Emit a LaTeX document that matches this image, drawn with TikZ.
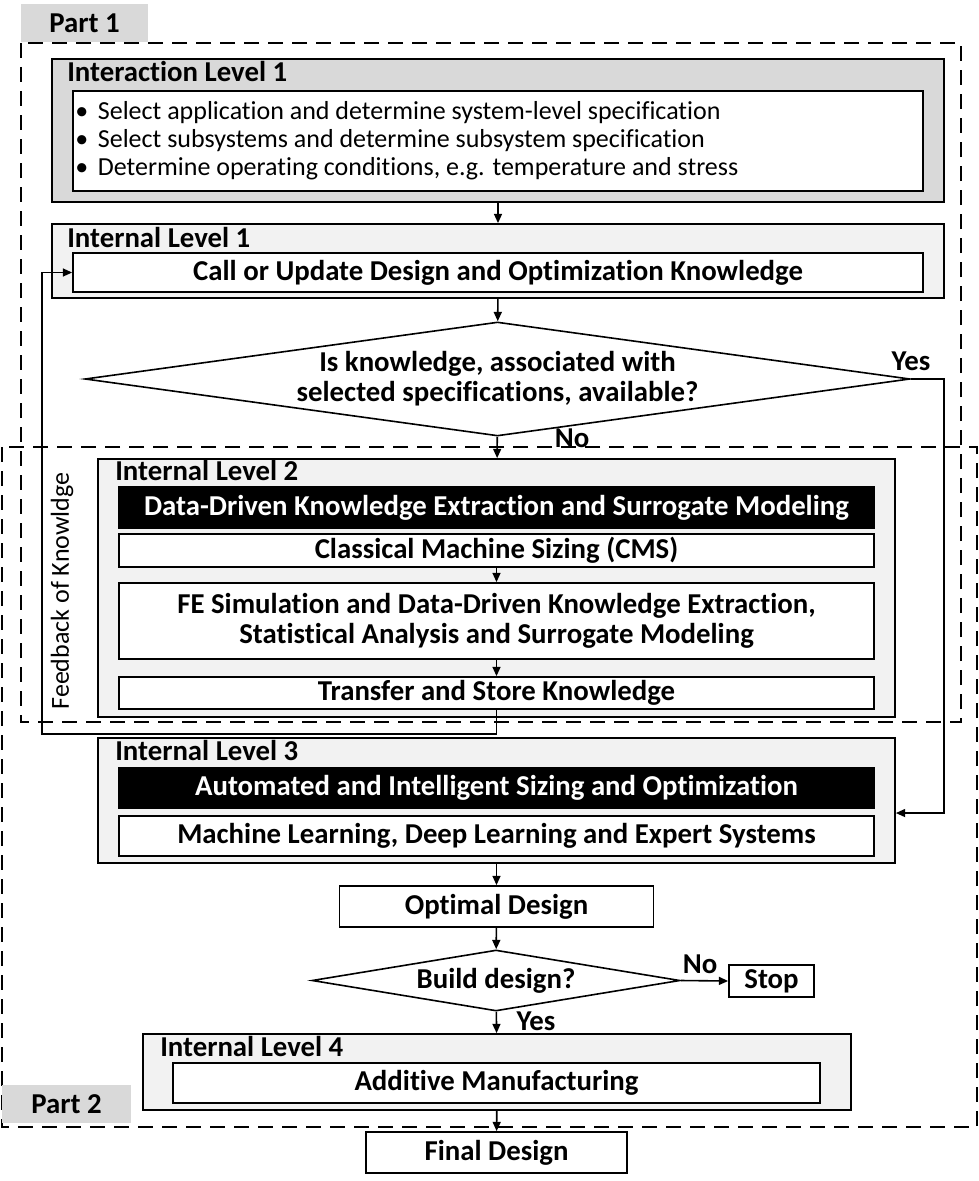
\documentclass[tikz,border=0pt]{standalone}
\usepackage{fontspec}
\setmainfont{Carlito}[Ligatures=NoCommon]
\usetikzlibrary{shapes.geometric,arrows.meta}
\definecolor{lvldark}{HTML}{D9D9D9}
\definecolor{lvllight}{HTML}{F2F2F2}
\newcommand{\boxfont}{\fontsize{21.6}{22.5}\selectfont\bfseries}
\newcommand{\listfont}{\fontsize{19.5}{21}\selectfont}

\begin{document}
\begin{tikzpicture}[x=0.75pt,y=0.75pt,yscale=-1,xscale=1,
    levelbox/.style={draw,line width=1.3pt,fill=lvllight,inner sep=0pt},
    whitebox/.style={draw,line width=1.3pt,fill=white,inner sep=0pt,font=\boxfont,align=center},
    blackbox/.style={draw,line width=1.3pt,fill=black,text=white,inner sep=0pt,font=\boxfont},
    decision/.style={diamond,draw,line width=1.2pt,fill=white,inner sep=0pt,font=\boxfont,align=center},
    leveltitle/.style={anchor=base west,inner sep=0pt,font=\boxfont},
    partlabel/.style={fill=lvldark,inner sep=0pt,font=\boxfont},
    answer/.style={anchor=base,inner sep=0pt,font=\boxfont},
    frame/.style={line width=1.4pt,dash pattern=on 11pt off 7pt},
    arr/.style={line width=1.2pt,-{Triangle[length=7pt,width=6pt]}}]
    \useasboundingbox (0,0) rectangle (978,1181);

    % part frames
    \draw[frame] (21,43) rectangle (961,722);
    \draw[frame] (2,447) rectangle (977,1127);
    \node[partlabel,minimum width=95.25pt,minimum height=28.5pt] (part1) at (84.5,23) {Part 1};
    \node[partlabel,minimum width=96.75pt,minimum height=28.5pt] (part2) at (66.5,1104) {Part 2};

    % interaction level 1
    \node[levelbox,fill=lvldark,minimum width=669pt,minimum height=107.25pt] (int1) at (498,130.5) {};
    \node[leveltitle] (int1t) at (67,82) {Interaction Level 1};
    \node[whitebox,minimum width=637.5pt,minimum height=75pt] (spec) at (498,141) {};
    \node[anchor=west,inner sep=0pt,font=\listfont,align=left] (specs) at (75,141) {%
        \makebox[17pt][l]{\textbullet}Select application and determine system-level specification\\
        \makebox[17pt][l]{\textbullet}Select subsystems and determine subsystem specification\\
        \makebox[17pt][l]{\textbullet}Determine operating conditions, e.g. temperature and stress};

    % internal level 1
    \node[levelbox,minimum width=669pt,minimum height=55.5pt] (lvl1) at (498,261) {};
    \node[leveltitle] (lvl1t) at (67,247) {Internal Level 1};
    \node[whitebox,minimum width=637.5pt,minimum height=29.25pt] (call) at (498,272.5) {Call or Update Design and Optimization Knowledge};

    % knowledge check
    \node[decision,aspect=7.24,minimum width=618.75pt,minimum height=85.5pt] (know) at (497.5,379) {Is knowledge, associated with\\selected specifications, available?};

    % internal level 2
    \node[levelbox,minimum width=597.75pt,minimum height=193.5pt] (lvl2) at (496.5,588) {};
    \node[leveltitle] (lvl2t) at (115,480) {Internal Level 2};
    \node[blackbox,minimum width=566.25pt,minimum height=30.75pt] (ddke) at (496.5,507.5) {Data-Driven Knowledge Extraction and Surrogate Modeling};
    \node[whitebox,minimum width=566.25pt,minimum height=24.75pt] (cms) at (496.5,550.5) {Classical Machine Sizing (CMS)};
    \node[whitebox,minimum width=566.25pt,minimum height=57pt] (fesim) at (496.5,621) {FE Simulation and Data-Driven Knowledge Extraction,\\Statistical Analysis and Surrogate Modeling};
    \node[whitebox,minimum width=566.25pt,minimum height=24pt] (store) at (496.5,693) {Transfer and Store Knowledge};
    \node[rotate=90,inner sep=0pt,font=\fontsize{19.5}{22}\selectfont] (fbtext) at (62,591) {Feedback of Knowldge};

    % internal level 3
    \node[levelbox,minimum width=597.75pt,minimum height=93.75pt] (lvl3) at (496.5,800.5) {};
    \node[leveltitle] (lvl3t) at (115,760) {Internal Level 3};
    \node[blackbox,minimum width=566.25pt,minimum height=30pt] (aiso) at (496.5,788) {Automated and Intelligent Sizing and Optimization};
    \node[whitebox,minimum width=566.25pt,minimum height=30pt] (mlde) at (496.5,836) {Machine Learning, Deep Learning and Expert Systems};

    % design decision
    \node[whitebox,minimum width=235.5pt,minimum height=30.75pt] (optimal) at (496.5,906.5) {Optimal Design};
    \node[decision,aspect=6.03,minimum width=276pt,minimum height=45.75pt] (build) at (496,980.5) {Build design?};
    \node[whitebox,minimum width=63.75pt,minimum height=24pt] (stop) at (771.5,981) {Stop};

    % internal level 4
    \node[levelbox,minimum width=531pt,minimum height=57pt] (lvl4) at (497,1072) {};
    \node[leveltitle] (lvl4t) at (160,1056) {Internal Level 4};
    \node[whitebox,minimum width=485.25pt,minimum height=30pt] (addm) at (496.5,1083) {Additive Manufacturing};
    \node[whitebox,minimum width=195.75pt,minimum height=30.75pt] (final) at (496.5,1152.5) {Final Design};

    % connectors
    \draw[arr] (int1) -- (lvl1);
    \draw[arr] (lvl1) -- (know);
    \draw[arr] (know) -- (lvl2);
    \draw[arr] (cms) -- (fesim);
    \draw[arr] (fesim) -- (store);
    \draw[arr] (know.east) -- ++(33,0) |- ([yshift=9.4pt]lvl3.east);
    \coordinate (fbk) at (42,500);
    \draw[arr] (store.south) -- ++(0,24) -| (fbk) |- (call.west);
    \draw[arr] (lvl3) -- (optimal);
    \draw[arr] (optimal) -- (build);
    \draw[arr] (build.east) -- (stop.west);
    \draw[arr] (build) -- (lvl4);
    \draw[arr] (lvl4) -- (final);

    % answers
    \node[answer] (yes1) at (911,370) {Yes};
    \node[answer] (no1) at (572,447) {No};
    \node[answer] (no2) at (700,973) {No};
    \node[answer] (yes2) at (536,1030) {Yes};
\end{tikzpicture}
\end{document}
